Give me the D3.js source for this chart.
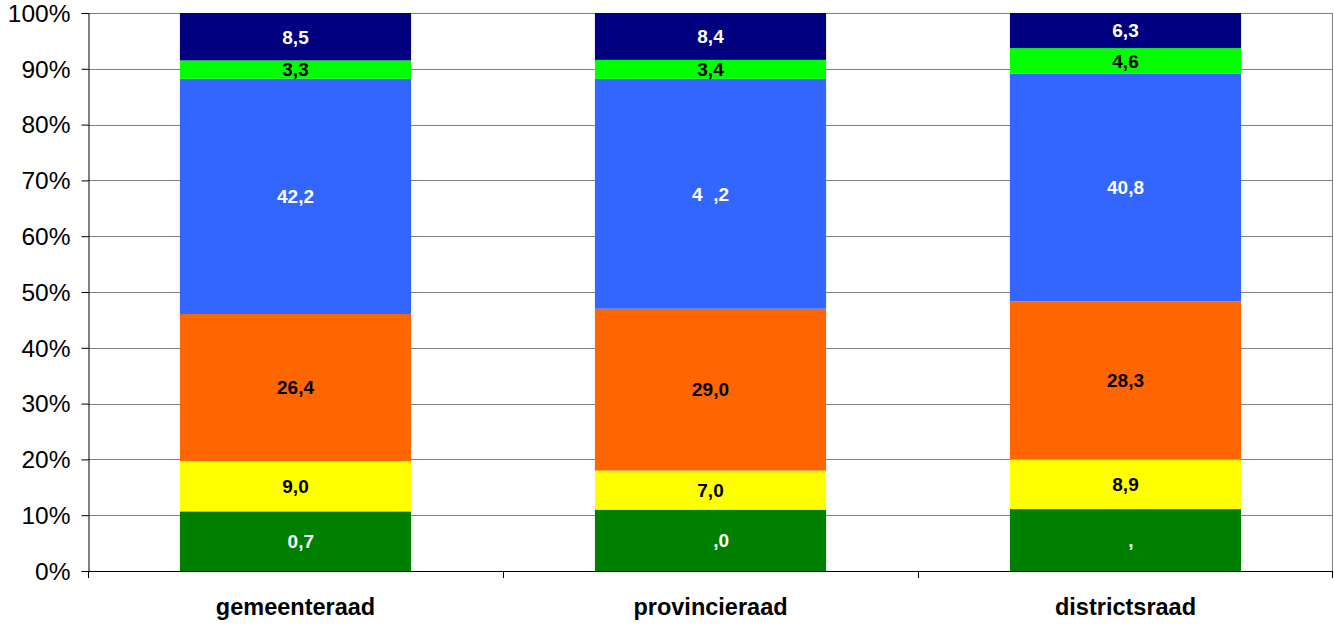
<!DOCTYPE html>
<html>
<head>
<meta charset="utf-8">
<script src="https://cdn.jsdelivr.net/npm/d3@7/dist/d3.min.js"></script>
<style>
  html, body { margin: 0; padding: 0; background: #fff; }
  svg { display: block; font-family: "Liberation Sans", Arial, sans-serif; }
</style>
</head>
<body>
<svg id="chart" width="1334" height="630"></svg>
<script>
// Councils (categories along the x axis)
const categories = ["gemeenteraad", "provincieraad", "districtsraad"];

// Stacked segments, bottom to top
const seriesNames = ["s1", "s2", "s3", "s4", "s5", "s6"];
const seriesColors = ["#008000", "#FFFF00", "#FF6600", "#3366FF", "#00FF00", "#000080"];
const labelColors  = ["#ffffff", "#000000", "#000000", "#ffffff", "#000000", "#ffffff"];

// Percent values per series, one entry per category
const s1 = [10.7, 11.0, 11.1];
const s2 = [9.0, 7.0, 8.9];
const s3 = [26.4, 29.0, 28.3];
const s4 = [42.2, 41.2, 40.8];
const s5 = [3.3, 3.4, 4.6];
const s6 = [8.5, 8.4, 6.3];
const seriesValues = [s1, s2, s3, s4, s5, s6];

// Label text as printed inside each segment (figure spaces hold the width of unprinted digits)
const FS = "\u2007";
const labels1 = [FS + "0,7", FS + FS + ",0", FS + FS + "," + FS];
const labels2 = ["9,0", "7,0", "8,9"];
const labels3 = ["26,4", "29,0", "28,3"];
const labels4 = ["42,2", "4" + FS + ",2", "40,8"];
const labels5 = ["3,3", "3,4", "4,6"];
const labels6 = ["8,5", "8,4", "6,3"];
const seriesLabels = [labels1, labels2, labels3, labels4, labels5, labels6];

const yTicks = [0, 10, 20, 30, 40, 50, 60, 70, 80, 90, 100];

const svg = d3.select("#chart");
const plotLeft = 88, plotRight = 1333, plotTop = 13, plotBottom = 571;

const x = d3.scaleBand().domain(categories).range([plotLeft, plotRight]).paddingInner(0.443).paddingOuter(0.2215);
const xOuter = d3.scaleBand().domain(categories).range([plotLeft, plotRight]);
const y = d3.scaleLinear().domain([0, 100]).range([plotBottom, plotTop]);

// Normalised stacking (100% stacked)
const rows = categories.map((c, i) => {
  const r = { cat: c };
  const total = d3.sum(seriesValues, s => s[i]);
  seriesNames.forEach((n, k) => r[n] = seriesValues[k][i] / total * 100);
  return r;
});
const stacked = d3.stack().keys(seriesNames)(rows);

// Gridlines
svg.append("g").selectAll("line").data(yTicks.slice(1)).join("line")
  .attr("x1", plotLeft).attr("x2", plotRight)
  .attr("y1", d => Math.round(y(d)) + 0.5).attr("y2", d => Math.round(y(d)) + 0.5)
  .attr("stroke", "#808080").attr("stroke-width", 1);

// Right frame border
svg.append("line").attr("x1", plotRight - 0.5).attr("x2", plotRight - 0.5)
  .attr("y1", plotTop).attr("y2", plotBottom).attr("stroke", "#808080");

// Bars
const layers = svg.append("g").selectAll("g").data(stacked).join("g")
  .attr("fill", (d, k) => seriesColors[k]);
layers.selectAll("rect").data(d => d).join("rect")
  .attr("x", d => x(d.data.cat))
  .attr("width", x.bandwidth())
  .attr("y", d => y(d[1]))
  .attr("height", d => y(d[0]) - y(d[1]));

// Segment labels
stacked.forEach((layer, k) => {
  svg.append("g").selectAll("text").data(layer).join("text")
    .attr("x", d => x(d.data.cat) + x.bandwidth() / 2)
    .attr("y", d => (y(d[0]) + y(d[1])) / 2)
    .attr("dy", "0.36em")
    .attr("text-anchor", "middle")
    .attr("font-size", "19px")
    .attr("font-weight", "bold")
    .attr("fill", labelColors[k])
    .style("white-space", "pre")
    .text((d, i) => seriesLabels[k][i]);
});

// Y axis
const yAxis = d3.axisLeft(y).tickValues(yTicks).tickFormat(d => d + "%").tickSize(7).tickPadding(11);
const gy = svg.append("g").attr("transform", `translate(${plotLeft + 0.5},0)`).call(yAxis);
gy.select(".domain").attr("stroke", "#000");
gy.selectAll(".tick line").attr("stroke", "#000");
gy.selectAll(".tick text").attr("font-size", "24.5px").attr("fill", "#000").attr("dy", "0.34em")
  .attr("font-family", "\"Liberation Sans\", Arial, sans-serif");

// X axis line and category separators
svg.append("line").attr("x1", plotLeft).attr("x2", plotRight)
  .attr("y1", plotBottom + 0.5).attr("y2", plotBottom + 0.5).attr("stroke", "#000");
const seps = categories.map(c => xOuter(c)).concat([plotRight]);
svg.append("g").selectAll("line").data(seps).join("line")
  .attr("x1", d => d === plotRight ? d - 0.5 : d + 0.5).attr("x2", d => d === plotRight ? d - 0.5 : d + 0.5)
  .attr("y1", plotBottom).attr("y2", plotBottom + 7).attr("stroke", "#000");

// Category labels
svg.append("g").selectAll("text").data(categories).join("text")
  .attr("x", d => x(d) + x.bandwidth() / 2)
  .attr("y", 615)
  .attr("text-anchor", "middle")
  .attr("font-size", "23.5px")
  .attr("font-weight", "bold")
  .text(d => d);
</script>
</body>
</html>
